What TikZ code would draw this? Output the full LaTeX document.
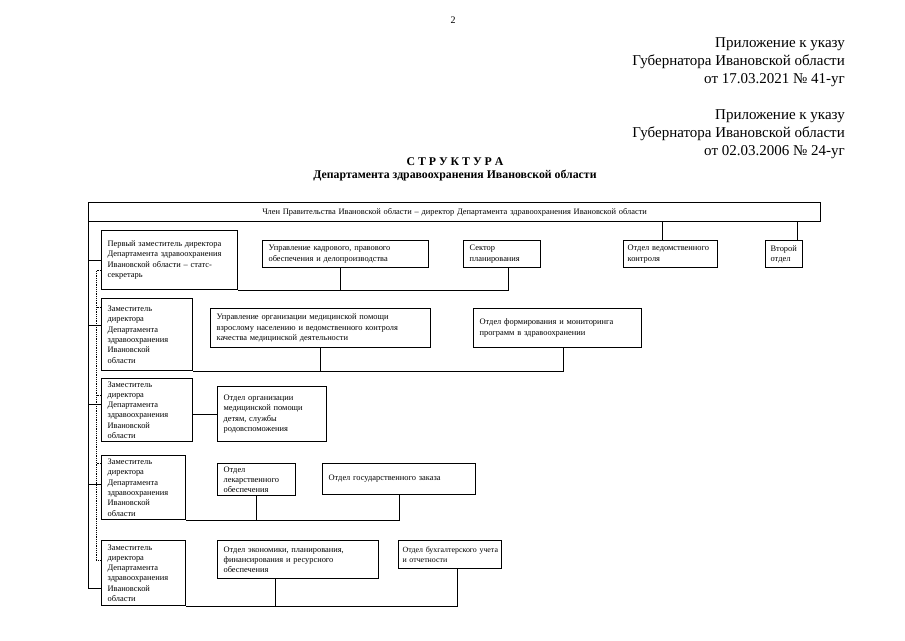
\documentclass[tikz,border=0pt]{standalone}
\usepackage{fontspec}
\setmainfont{Liberation Serif}
\newcommand\bxfont{\fontsize{8.4}{10.3}\selectfont}
\begin{document}
\begin{tikzpicture}[x=1pt,y=-1pt,
  bx/.style={draw, line width=1.2pt, anchor=north west, inner xsep=6pt, inner ysep=0.5pt, align=left, font=\bxfont},
  ln/.style={line width=0.8pt},
  dl/.style={line width=0.8pt, densely dotted}]
\useasboundingbox (0,0) rectangle (905,640);
\fill[white] (0,0) rectangle (905,640);

% page number and header
\node[font=\fontsize{10}{12}\selectfont] (pg) at (453,20) {2};
\node[anchor=north east, align=right, inner sep=0pt, font=\fontsize{15}{18.3}\selectfont] (hdrA) at (845,37)
  {Приложение к указу\\Губернатора Ивановской области\\от 17.03.2021 № 41-уг};
\node[anchor=north east, align=right, inner sep=0pt, font=\fontsize{15}{18.3}\selectfont] (hdrB) at (845,109)
  {Приложение к указу\\Губернатора Ивановской области\\от 02.03.2006 № 24-уг};
\node[font=\bfseries\fontsize{11.8}{13}\selectfont] (tit1) at (455,162) {С Т Р У К Т У Р А};
\node[font=\bfseries\fontsize{11.8}{13}\selectfont] (tit2) at (455,176) {Департамента здравоохранения Ивановской области};

% top box
\node[bx, align=center, text width=720pt, minimum height=19pt] (top) at (88,202)
  {Член Правительства Ивановской области – директор Департамента здравоохранения Ивановской области};

% row 1
\node[bx, text width=124pt, minimum height=59pt] (B1) at (101,230)
  {Первый заместитель директора\\Департамента здравоохранения\\Ивановской области – статс-\\секретарь};
\node[bx, text width=154pt, minimum height=27pt] (B2) at (262,240)
  {Управление кадрового, правового\\обеспечения и делопроизводства};
\node[bx, text width=65pt, minimum height=27pt] (B3) at (463,240)
  {Сектор\\планирования};
\node[bx, inner xsep=4pt, text width=86pt, minimum height=27pt] (B4) at (623,240)
  {\mbox{Отдел ведомственного}\\контроля};
\node[bx, inner xsep=5pt, text width=27pt, minimum height=27pt] (B5) at (765,240)
  {Второй\\отдел};

% deputies
\node[bx, text width=79pt, minimum height=72pt] (D2) at (101,298)
  {Заместитель\\директора\\Департамента\\здравоохранения\\Ивановской\\области};
\node[bx, text width=79pt, minimum height=63pt] (D3) at (101,378)
  {Заместитель\\директора\\Департамента\\здравоохранения\\Ивановской\\области};
\node[bx, text width=72pt, minimum height=64pt] (D4) at (101,455)
  {Заместитель\\директора\\Департамента\\здравоохранения\\Ивановской\\области};
\node[bx, text width=72pt, minimum height=65pt] (D5) at (101,540)
  {Заместитель\\директора\\Департамента\\здравоохранения\\Ивановской\\области};

% row 2
\node[bx, text width=208pt, minimum height=39pt] (U1) at (210,308)
  {Управление организации медицинской помощи\\взрослому населению и ведомственного контроля\\качества медицинской деятельности};
\node[bx, text width=156pt, minimum height=39pt] (O1) at (473,308)
  {Отдел формирования и мониторинга\\программ в здравоохранении\\[9pt]};

% row 3
\node[bx, text width=97pt, minimum height=55pt] (C1) at (217,386)
  {Отдел организации\\медицинской помощи\\детям, службы\\родовспоможения\\[10pt]};

% row 4
\node[bx, text width=66pt, minimum height=32pt] (L1) at (217,463)
  {Отдел\\лекарственного\\обеспечения};
\node[bx, text width=141pt, minimum height=31pt] (G1) at (322,463)
  {Отдел государственного заказа\\[6pt]};

% row 5
\node[bx, text width=149pt, minimum height=38pt] (E1) at (217,540)
  {Отдел экономики, планирования,\\финансирования и ресурсного\\обеспечения};
\node[bx, inner xsep=4pt, text width=95pt, minimum height=28pt, font=\fontsize{7.9}{10.3}\selectfont] (A1) at (398,540)
  {\mbox{Отдел бухгалтерского учета}\\и отчетности};

% connectors to top box
\draw[ln] ([xshift=-8pt]B4.north) -- ([xshift=-8pt]B4.north |- top.south);
\draw[ln] ([xshift=13.5pt]B5.north) -- ([xshift=13.5pt]B5.north |- top.south);

% row 1 bus
\draw[ln] (B1.south east) -- ([xshift=6.5pt]B3.south |- B1.south east) -- ([xshift=6.5pt]B3.south);
\draw[ln] ([xshift=-5pt]B2.south) -- ([xshift=-5pt]B2.south |- B1.south east);

% row 2 bus
\draw[ln] (D2.south east) -- ([xshift=6pt]O1.south |- D2.south east) -- ([xshift=6pt]O1.south);
\draw[ln] (U1.south) -- (U1.south |- D2.south east);

% row 3
\draw[ln] (C1.west) -- (C1.west -| D3.east);

% row 4 bus
\draw[ln] (D4.south east) -- (G1.south |- D4.south east) -- (G1.south);
\draw[ln] (L1.south) -- (L1.south |- D4.south east);

% row 5 bus
\draw[ln] (D5.south east) -- ([xshift=7.5pt]A1.south |- D5.south east) -- ([xshift=7.5pt]A1.south);
\draw[ln] ([xshift=-22.5pt]E1.south) -- ([xshift=-22.5pt]E1.south |- D5.south east);

% left solid spine
\coordinate (Lb) at ([yshift=-15.5pt]D5.west -| top.south west);
\draw[ln] (top.south west) -- (Lb) -- ([yshift=-15.5pt]D5.west);
\draw[ln] (B1.west) -- (B1.west -| top.south west);
\draw[ln] ([yshift=9pt]D2.west) -- ([yshift=9pt]D2.west -| top.south west);
\draw[ln] ([yshift=5.5pt]D3.west) -- ([yshift=5.5pt]D3.west -| top.south west);
\draw[ln] ([yshift=3pt]D4.west) -- ([yshift=3pt]D4.west -| top.south west);

% dotted coordination line
\coordinate (dv) at (96,0);
\draw[dl] ([yshift=-10.5pt]B1.west) -- ([yshift=-10.5pt]B1.west -| dv) -- ([yshift=12.5pt]D5.west -| dv) -- ([yshift=12.5pt]D5.west);
\draw[dl] ([yshift=27pt]D2.west) -- ([yshift=27pt]D2.west -| dv);
\draw[dl] ([yshift=14.5pt]D3.west) -- ([yshift=14.5pt]D3.west -| dv);
\draw[dl] ([yshift=24pt]D4.west) -- ([yshift=24pt]D4.west -| dv);
\end{tikzpicture}
\end{document}
